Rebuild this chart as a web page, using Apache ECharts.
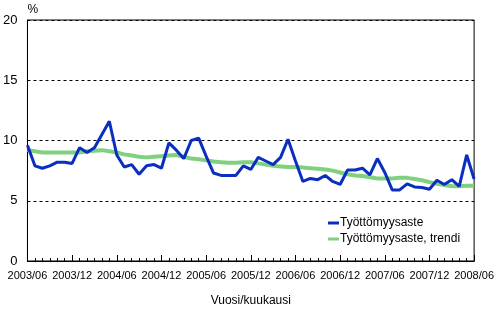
<!DOCTYPE html>
<html><head><meta charset="utf-8">
<script src="https://cdn.jsdelivr.net/npm/echarts@6/dist/echarts.min.js"></script>
<style>html,body{margin:0;padding:0;background:#fff}#c{width:497px;height:312px}</style>
</head><body><div id="c"></div>
<script>
const months = [];
for (let y = 2003, m = 6; months.length < 61; ) {
  months.push(y + '/' + (m < 10 ? '0' + m : m));
  m++; if (m > 12) { m = 1; y++; }
}
const rate = [9.6,7.9,7.7,7.9,8.2,8.2,8.1,9.4,9.0,9.4,
  10.5,11.6,8.8,7.8,8.0,7.2,7.9,8.0,7.7,9.8,
  9.2,8.5,10.0,10.2,8.7,7.3,7.1,7.1,7.1,7.9,
  7.6,8.6,8.3,8.0,8.6,10.1,8.3,6.6,6.85,6.75,
  7.1,6.6,6.35,7.55,7.55,7.7,7.15,8.5,7.35,5.9,
  5.9,6.4,6.15,6.1,5.95,6.7,6.35,6.75,6.2,8.8,6.8];
const trend = [9.2,9.1,9.0,9.0,9.0,9.0,9.0,9.0,9.1,9.15,
  9.2,9.1,9.0,8.85,8.75,8.65,8.6,8.65,8.7,8.75,
  8.8,8.65,8.5,8.45,8.35,8.25,8.2,8.15,8.15,8.2,
  8.2,8.1,8.0,7.9,7.85,7.8,7.8,7.75,7.7,7.65,
  7.6,7.5,7.35,7.2,7.1,7.05,6.95,6.85,6.85,6.85,
  6.9,6.9,6.8,6.7,6.55,6.4,6.3,6.2,6.2,6.25,6.25];
const seriesNames = ['Työttömyysaste', 'Työttömyysaste, trendi'];
const font = 'Liberation Sans, Arial, sans-serif';
const chart = echarts.init(document.getElementById('c'), null, {renderer: 'canvas'});
chart.setOption({
  animation: false,
  grid: {left: 25, right: 19, top: 20, bottom: 44, show: true, borderColor: '#000', borderWidth: 1, containLabel: false},
  legend: {
    orient: 'vertical', left: 323, top: 212, itemWidth: 11, itemHeight: 3, itemGap: 4,
    icon: 'rect', data: seriesNames,
    textStyle: {fontFamily: font, fontSize: 12, color: '#000', padding: [0,0,0,-4]}
  },
  xAxis: [{
    type: 'category', data: months, boundaryGap: false,
    axisLine: {lineStyle: {color: '#000', width: 1}},
    axisTick: {inside: true, interval: 0, length: 3, lineStyle: {color: '#000'}},
    axisLabel: {interval: 5, color: '#000', fontFamily: font, fontSize: 11, margin: 9},
    name: 'Vuosi/kuukausi', nameLocation: 'middle', nameGap: 34,
    nameTextStyle: {fontFamily: font, fontSize: 12, color: '#000'}
  }, {
    type: 'category', data: months, boundaryGap: false, position: 'bottom',
    axisLine: {show: false},
    axisTick: {inside: true, interval: 5, length: 6, lineStyle: {color: '#000'}},
    axisLabel: {show: false}
  }],
  yAxis: {
    type: 'value', min: 0, max: 20, interval: 5,
    axisLine: {show: true, lineStyle: {color: '#000'}},
    axisTick: {show: false},
    axisLabel: {color: '#000', fontFamily: font, fontSize: 13, margin: 10},
    splitLine: {lineStyle: {color: '#000', type: [3, 3], width: 1}},
    name: '%', nameLocation: 'end', nameGap: 4,
    nameTextStyle: {fontFamily: font, fontSize: 12, color: '#000', align: 'left'}
  },
  series: [
    {name: seriesNames[1], type: 'line', data: trend, symbol: 'none', z: 2,
     lineStyle: {color: '#7fd17f', width: 4}, itemStyle: {color: '#7fd17f'}},
    {name: seriesNames[0], type: 'line', data: rate, symbol: 'none', z: 3,
     lineStyle: {color: '#0a2fc0', width: 3}, itemStyle: {color: '#0a2fc0'}}
  ]
});
</script></body></html>
